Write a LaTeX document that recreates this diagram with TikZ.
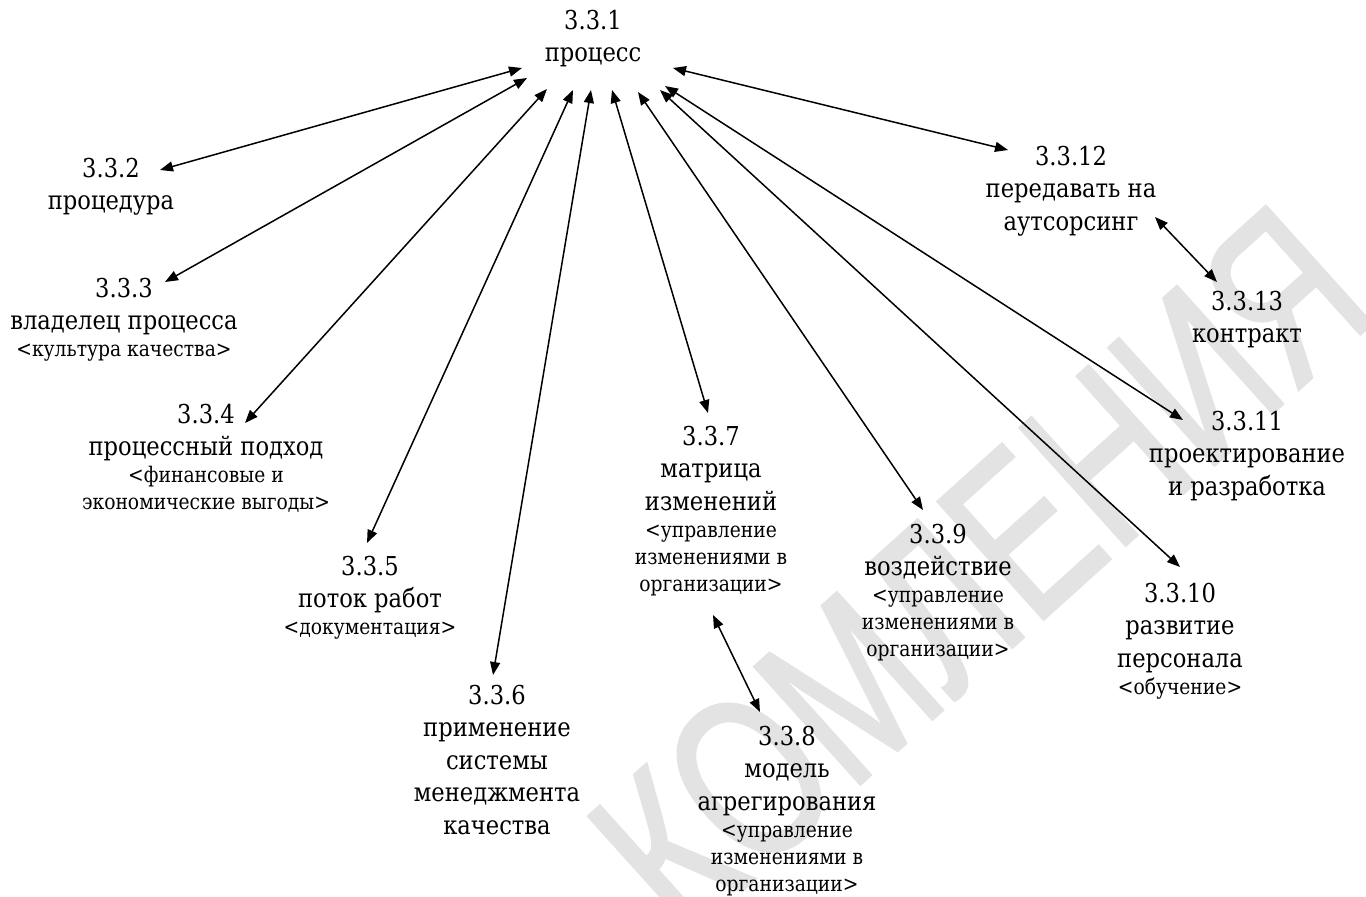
\documentclass[tikz,border=0pt]{standalone}
\usepackage{fontspec}
\setmainfont{DejaVu Serif}[FakeStretch=0.87]
\newfontfamily\wmfont{Liberation Sans}[FakeStretch=0.72,FakeBold=1.2]
\usetikzlibrary{arrows.meta}

% one centred block of lines; the block's baseline is that of its first line
\newcommand\blk[1]{\begin{tabular}[t]{@{}c@{}}#1\end{tabular}}
% smaller remark lines
\newcommand\sm[1]{{\fontsize{21.5}{27}\selectfont #1}}
\newcommand\nl{\\[-5.5pt]}

\tikzset{
  lbl/.style={anchor=base, inner sep=0pt, font=\fontsize{26}{32.5}\selectfont},
  dar/.style={line width=1.5pt,
    {Triangle[length=13pt,width=10pt]}-{Triangle[length=13pt,width=10pt]}},
  wm/.style={inner sep=0pt, text=black!11,
    font=\wmfont\fontsize{230}{230}\selectfont}
}

\begin{document}
\begin{tikzpicture}[x=1pt,y=-1pt]
\useasboundingbox (0,0) rectangle (1366,897);
\fill[white] (0,0) rectangle (1366,897);

% background stamp
\begin{scope}
  \clip (0,0) rectangle (1366,897);
  \node[wm, rotate=42] (stamp) at (980,570) {КОМЛЕНИЯ};
\end{scope}

% terms
\node[lbl] (p1)  at (593,29)   {\blk{3.3.1\\процесс}};
\node[lbl] (p2)  at (111,177)  {\blk{3.3.2\\процедура}};
\node[lbl] (p3)  at (124,297)  {\blk{3.3.3\\владелец процесса\nl\sm{<культура качества>}}};
\node[lbl] (p4)  at (206,423)  {\blk{3.3.4\\процессный подход\nl\sm{<финансовые и}\nl\sm{экономические выгоды>}}};
\node[lbl] (p5)  at (370,575)  {\blk{3.3.5\\поток работ\nl\sm{<документация>}}};
\node[lbl] (p6)  at (497,704)  {\blk{3.3.6\\применение\\системы\\менеджмента\\качества}};
\node[lbl] (p7)  at (711,445)  {\blk{3.3.7\\матрица\\изменений\nl\sm{<управление}\nl\sm{изменениями в}\nl\sm{организации>}}};
\node[lbl] (p8)  at (787,745)  {\blk{3.3.8\\модель\\агрегирования\nl\sm{<управление}\nl\sm{изменениями в}\nl\sm{организации>}}};
\node[lbl] (p9)  at (938,543)  {\blk{3.3.9\\воздействие\nl\sm{<управление}\nl\sm{изменениями в}\nl\sm{организации>}}};
\node[lbl] (p10) at (1180,602) {\blk{3.3.10\\развитие\\персонала\nl\sm{<обучение>}}};
\node[lbl] (p11) at (1247,430) {\blk{3.3.11\\проектирование\\и разработка}};
\node[lbl] (p12) at (1071,165) {\blk{3.3.12\\передавать на\\аутсорсинг}};
\node[lbl] (p13) at (1247,310) {\blk{3.3.13\\контракт}};

% links
\draw[dar] ([shift={(-71,39)}]p1.base) -- ([shift={(49,-7)}]p2.base);
\draw[dar] ([shift={(-66,49)}]p1.base) -- ([shift={(41,-15)}]p3.base);
\draw[dar] ([shift={(-46,60)}]p1.base) -- ([shift={(39,0)}]p4.base);
\draw[dar] ([shift={(-20,61)}]p1.base) -- ([shift={(-3,-32)}]p5.base);
\draw[dar] ([shift={(-2,61)}]p1.base)  -- ([shift={(-4,-29)}]p6.base);
\draw[dar] ([shift={(19,61)}]p1.base)  -- ([shift={(-3,-32)}]p7.base);
\draw[dar] ([shift={(45,63)}]p1.base)  -- ([shift={(-15,-33)}]p9.base);
\draw[dar] ([shift={(67,61)}]p1.base)  -- ([shift={(0,-35)}]p10.base);
\draw[dar] ([shift={(72,57)}]p1.base)  -- ([shift={(-64,-10)}]p11.base);
\draw[dar] ([shift={(80,39)}]p1.base)  -- ([shift={(-63,-15)}]p12.base);
\draw[dar] ([shift={(2,170)}]p7.base)  -- ([shift={(-27,-33)}]p8.base);
\draw[dar] ([shift={(84,52)}]p12.base) -- ([shift={(-30,-28)}]p13.base);
\end{tikzpicture}
\end{document}
